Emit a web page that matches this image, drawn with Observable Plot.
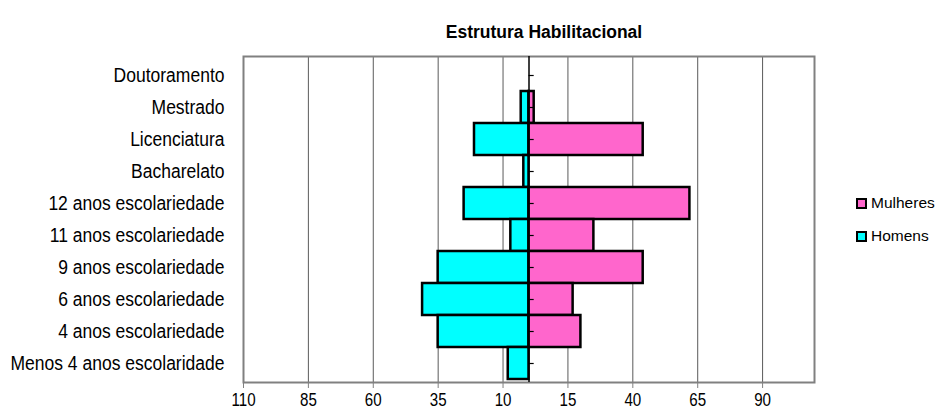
<!DOCTYPE html>
<html>
<head>
<meta charset="utf-8">
<script src="https://cdn.jsdelivr.net/npm/d3@7"></script>
<script src="https://cdn.jsdelivr.net/npm/@observablehq/plot@0.6"></script>
<style>
  body { margin: 0; background: #fff; font-family: "Liberation Sans", Arial, sans-serif; }
  #wrap { position: relative; width: 936px; height: 416px; }
  #title { position: absolute; left: 394px; width: 300px; top: 22px; text-align: center; font-weight: bold; font-size: 17.5px; white-space: nowrap; }
  .leg { position: absolute; left: 856px; font-size: 15.5px; display: flex; align-items: center; white-space: nowrap; }
  .sw { display: inline-block; width: 7px; height: 7px; border: 2px solid #000; margin-right: 4px; }
</style>
</head>
<body>
<div id="wrap">
  <div id="title">Estrutura Habilitacional</div>
  <div id="chart"></div>
  <div class="leg" style="top:194px"><span class="sw" style="background:#FF66CC"></span>Mulheres</div>
  <div class="leg" style="top:227px"><span class="sw" style="background:#00FFFF"></span>Homens</div>
</div>
<script>
const categories = ["Doutoramento","Mestrado","Licenciatura","Bacharelato","12 anos escolariedade","11 anos escolariedade","9 anos escolariedade","6 anos escolariedade","4 anos escolariedade","Menos 4 anos escolaridade"];
const homens   = [0, 3, 21, 2, 25, 7, 35, 41, 35, 8];
const mulheres = [0, 2, 44, 0, 62, 25, 44, 17, 20, 0];
const xTicks = [-110, -85, -60, -35, -10, 15, 40, 65, 90];

const menData = categories.map((c, i) => ({cat: c, v: -homens[i]})).filter(d => d.v !== 0);
const womenData = categories.map((c, i) => ({cat: c, v: mulheres[i]})).filter(d => d.v !== 0);

const chart = Plot.plot({
  width: 936,
  height: 416,
  marginTop: 56,
  marginBottom: 34,
  marginLeft: 243,
  marginRight: 122,
  style: {fontFamily: "Liberation Sans, Arial, sans-serif", fontSize: "16px", color: "#000", background: "#fff"},
  x: {domain: [-110, 110]},
  y: {domain: categories, padding: 0},
  marks: [
    Plot.gridX(xTicks, {stroke: "#000", strokeOpacity: 0.65}),
    Plot.frame({stroke: "#808080", strokeWidth: 2}),
    Plot.barX(menData, {y: "cat", x1: 0, x2: "v", fill: "#00FFFF", stroke: "#000", strokeWidth: 2.5}),
    Plot.barX(womenData, {y: "cat", x1: 0, x2: "v", fill: "#FF66CC", stroke: "#000", strokeWidth: 2.5}),
    Plot.ruleX([0], {stroke: "#000", strokeWidth: 1.5}),
    Plot.ruleY(categories, {y: d => d, x1: 0, x2: 2, stroke: "#000", strokeWidth: 1.2}),
    Plot.axisY({tickSize: 0, tickPadding: 19, label: null, fontSize: 20}),
    Plot.axisX(xTicks, {tickSize: 6, tickPadding: 5, tickFormat: d => Math.abs(d), label: null, fontSize: 18, stroke: "#808080"})
  ]
});
document.getElementById("chart").appendChild(chart);

// horizontally condense the axis tick labels (the reference text is tall and narrow)
function condense(selector, factor) {
  chart.querySelectorAll(selector + " text").forEach(t => {
    const w = t.getComputedTextLength();
    t.setAttribute("textLength", (w * factor).toFixed(2));
    t.setAttribute("lengthAdjust", "spacingAndGlyphs");
  });
}
condense('g[aria-label="y-axis tick label"]', 0.875);
condense('g[aria-label="x-axis tick label"]', 0.84);
</script>
</body>
</html>
